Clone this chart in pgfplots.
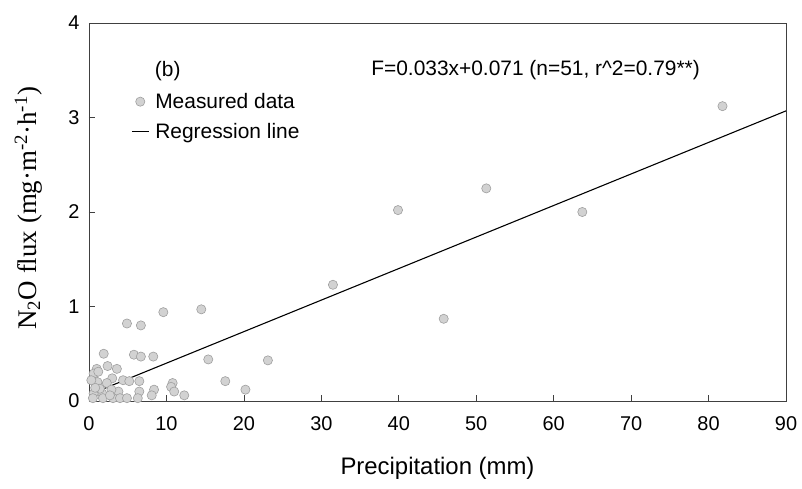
\documentclass[border=0pt]{standalone}
\usepackage{fontspec}
\setmainfont{Liberation Sans}
\newfontfamily\timesf{Liberation Serif}
\usepackage{pgfplots}
\usepackage{pgfplotstable}
\pgfplotsset{compat=1.18}
\pgfplotstableread{
x y
51.3 2.25
39.9 2.02
63.7 2.00
31.5 1.23
45.8 0.87
81.8 3.12
9.6 0.94
14.5 0.97
4.9 0.82
6.7 0.80
1.9 0.50
5.8 0.49
6.7 0.47
8.3 0.47
15.4 0.44
23.1 0.43
1.0 0.34
2.4 0.37
3.6 0.34
0.6 0.24
3.0 0.24
1.1 0.20
4.4 0.22
5.2 0.21
6.5 0.21
2.3 0.19
17.6 0.21
20.2 0.12
10.8 0.19
10.6 0.15
11.0 0.10
8.4 0.12
8.1 0.06
6.5 0.10
6.3 0.03
12.3 0.06
3.8 0.10
2.9 0.12
1.7 0.08
0.6 0.08
0.5 0.03
1.8 0.03
3.1 0.03
0.6 0.29
1.4 0.13
2.7 0.06
0.8 0.14
4.0 0.03
1.2 0.31
0.3 0.22
4.9 0.03
}\measured
\begin{document}
\begin{tikzpicture}
\begin{axis}[
  scale only axis, width=697bp, height=378bp,
  xmin=0, xmax=90, ymin=0, ymax=4,
  xtick={0,10,...,90}, ytick={0,1,2,3,4},
  tick align=inside, tick pos=left, major tick length=6bp,
  axis line style={line width=1pt, black!75},
  tick style={black!75, line width=0.6pt},
  /pgf/number format/assume math mode=true,
  ticklabel style={font=\fontsize{20}{24}\selectfont},
  xticklabel style={yshift=-12bp},
  yticklabel style={xshift=-6bp},
  xlabel={Precipitation (mm)},
  xlabel style={font=\fontsize{24}{28}\selectfont, at={(axis description cs:0.5,-0.178)}, anchor=center},
  ylabel={\timesf N\textsubscript{2}O flux (mg·m\textsuperscript{-2}·h\textsuperscript{-1})},
  ylabel style={font=\fontsize{27}{30}\selectfont, at={(axis description cs:-0.087,0.51)}, anchor=center},
  legend style={at={(axis description cs:0.056,0.825)}, anchor=north west, draw=none, fill=none,
     font=\fontsize{21}{24}\selectfont, row sep=9bp,
     /tikz/every odd column/.append style={column sep=4bp}},
  legend cell align=left,
]
\addplot[only marks, mark=*, mark size=4.6bp, mark options={fill=gray!35, draw=gray!75, line width=0.6pt}] table {\measured};
\addlegendentry{Measured data}
\addplot[black, line width=1.1pt] coordinates {(1.0,0.10) (90,3.07)};
\addlegendentry{Regression line}
\node[font=\fontsize{21}{24}\selectfont] at (axis description cs:0.113,0.872) {(b)};
\node[font=\fontsize{21}{24}\selectfont, anchor=west] at (axis description cs:0.40,0.876) {F=0.033x+0.071 (n=51, r\^{}2=0.79**)};
\end{axis}
\pgfresetboundingbox
\path[use as bounding box] (-89bp,-88bp) rectangle (713bp,401bp);
\end{tikzpicture}
\end{document}
